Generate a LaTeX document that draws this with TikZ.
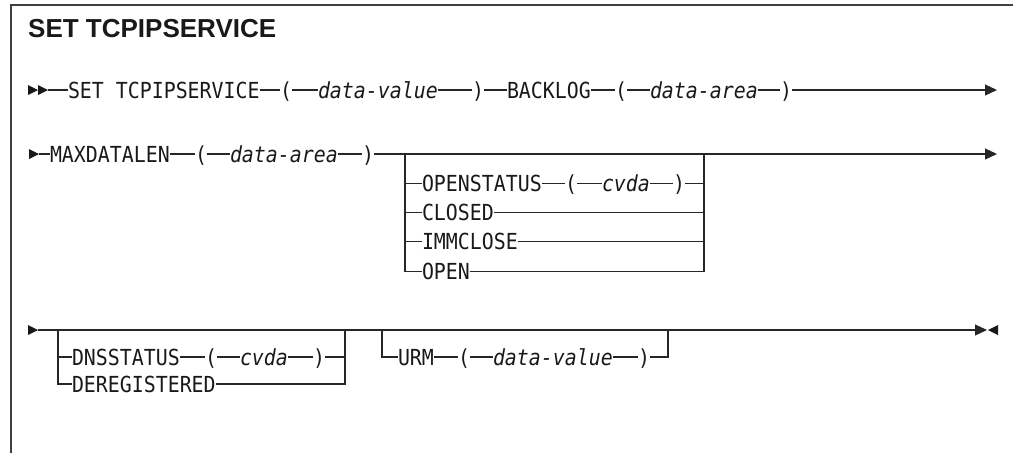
\documentclass[tikz,border=0pt]{standalone}
\usepackage{fontspec}
\usetikzlibrary{arrows.meta}
\newfontfamily\dmono[FakeStretch=0.9]{DejaVu Sans Mono}
\newfontfamily\titlefont{Liberation Sans}
\begin{document}
\begin{tikzpicture}[x=1pt,y=-1pt,
  ln/.style={line width=1.1pt, draw=black!85},
  kw/.style={inner sep=0pt, outer sep=0pt, anchor=west, text height=16pt, text depth=0pt,
    font=\dmono\fontsize{22.1}{26}\selectfont, text=black!90},
  var/.style={kw, font=\dmono\itshape\fontsize{22.1}{26}\selectfont},
  endarr/.style={ln, -{Triangle[length=12pt,width=11pt]}},
  rtri/.pic={\fill[black!90] (0,0) -- (-10,-5) -- (-10,5) -- cycle;},
  ltri/.pic={\fill[black!90] (0,0) -- (10,-5) -- (10,5) -- cycle;},
]
\useasboundingbox (0,0) rectangle (1013,453);
% frame
\draw[line width=1.5pt, black!75] (1013,5) -- (11,5) -- (11,453);
\node[anchor=base west, inner sep=0pt, font=\titlefont\bfseries\fontsize{26}{30}\selectfont, text=black!90] (title) at (28,37) {SET TCPIPSERVICE};

% ---------- row 1
\pic at (38,90) {rtri};
\pic at (48,90) {rtri};
\coordinate (s1) at (48,90);
\node[kw] (set) at (68,90) {SET TCPIPSERVICE};
\node[kw] (lp1) at (280,90) {(};
\node[var] (dv1) at (318,90) {data-value};
\node[kw] (rp1) at (472,90) {)};
\node[kw] (bl) at (507,90) {BACKLOG};
\node[kw] (lp2) at (615,90) {(};
\node[var] (da1) at (650,90) {data-area};
\node[kw] (rp2) at (780,90) {)};
\coordinate (e1) at (997,90);
\draw[ln] (s1) -- (set.west) (set.east) -- (lp1.west) (lp1.east) -- (dv1.west)
  (dv1.east) -- (rp1.west) (rp1.east) -- (bl.west) (bl.east) -- (lp2.west)
  (lp2.east) -- (da1.west) (da1.east) -- (rp2.west);
\draw[endarr] (rp2.east) -- (e1);

% ---------- row 2
\pic at (39,154) {rtri};
\coordinate (s2) at (39,154);
\node[kw] (mdl) at (50,154) {MAXDATALEN};
\node[kw] (lp3) at (195,154) {(};
\node[var] (da2) at (230,154) {data-area};
\node[kw] (rp3) at (362,154) {)};
\coordinate (g1l) at (405,154);
\coordinate (g1r) at (704,154);
\coordinate (e2) at (997,154);
\draw[ln] (s2) -- (mdl.west) (mdl.east) -- (lp3.west) (lp3.east) -- (da2.west)
  (da2.east) -- (rp3.west);
\draw[endarr] (rp3.east) -- (e2);
\node[kw] (ops) at (422,183.3) {OPENSTATUS};
\node[kw] (lp4) at (565,183.3) {(};
\node[var] (cv1) at (602,183.3) {cvda};
\node[kw] (rp4) at (673,183.3) {)};
\node[kw] (clo) at (422,212.6) {CLOSED};
\node[kw] (imm) at (422,241.9) {IMMCLOSE};
\node[kw] (opn) at (422,271.2) {OPEN};
\draw[ln] (g1l) |- (opn.west);
\draw[ln] (opn.east) -| (g1r);
\draw[ln] (g1l |- ops.west) -- (ops.west) (ops.east) -- (lp4.west) (lp4.east) -- (cv1.west)
  (cv1.east) -- (rp4.west) (rp4.east) -- (rp4.east -| g1r);
\draw[ln] (g1l |- clo.west) -- (clo.west) (clo.east) -- (clo.east -| g1r);
\draw[ln] (g1l |- imm.west) -- (imm.west) (imm.east) -- (imm.east -| g1r);

% ---------- row 3
\pic at (38,330) {rtri};
\coordinate (s3) at (38,330);
\coordinate (g2l) at (58,330);
\coordinate (g2r) at (345,330);
\coordinate (g3l) at (382,330);
\coordinate (g3r) at (668,330);
\coordinate (e3) at (987,330);
\coordinate (tk1) at (673,330);
\coordinate (tk2) at (697,330);
\draw[endarr] (s3) -- (e3);
\pic at (988,330) {ltri};
\draw[line width=2.2pt, black!85] (tk1) -- (tk2);
\node[kw] (dns) at (72,357) {DNSSTATUS};
\node[kw] (lp5) at (205,357) {(};
\node[var] (cv2) at (240,357) {cvda};
\node[kw] (rp5) at (313,357) {)};
\node[kw] (der) at (72,384) {DEREGISTERED};
\draw[ln] (g2l) |- (der.west);
\draw[ln] (der.east) -| (g2r);
\draw[ln] (g2l |- dns.west) -- (dns.west) (dns.east) -- (lp5.west) (lp5.east) -- (cv2.west)
  (cv2.east) -- (rp5.west) (rp5.east) -- (rp5.east -| g2r);
\node[kw] (urm) at (398,357) {URM};
\node[kw] (lp6) at (458,357) {(};
\node[var] (dv2) at (493,357) {data-value};
\node[kw] (rp6) at (638,357) {)};
\draw[ln] (g3l) |- (urm.west);
\draw[ln] (urm.east) -- (lp6.west) (lp6.east) -- (dv2.west) (dv2.east) -- (rp6.west);
\draw[ln] (rp6.east) -| (g3r);
\end{tikzpicture}
\end{document}
